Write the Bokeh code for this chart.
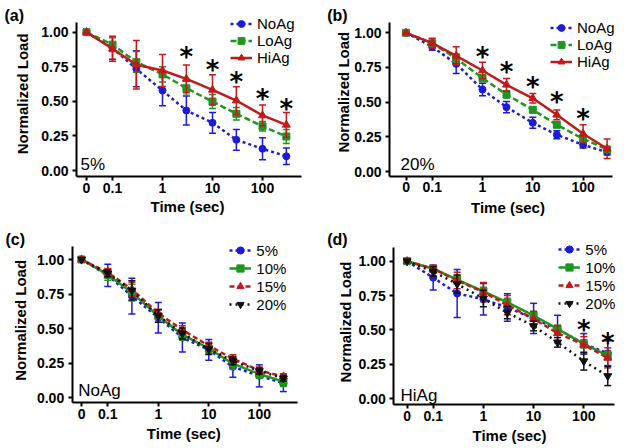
import math
from bokeh.plotting import figure
from bokeh.layouts import row, column
from bokeh.models import (Range1d, FixedTicker, Label, Legend, LegendItem,
                          NumeralTickFormatter)
from bokeh.core.properties import value
from bokeh.embed import file_html
from bokeh.resources import INLINE

# ---------------- data ----------------
TIME = [0, 0.1, 0.3, 1, 3, 10, 30, 100, 300]
X_TICK_TIMES = [0, 0.1, 1, 10, 100]
X_TICK_LABELS = ["0", "0.1", "1", "10", "100"]
Y_TICKS = [0.0, 0.25, 0.5, 0.75, 1.0]

# (a) 5% strain
A_NOAG = [1.0, 0.885, 0.735, 0.578, 0.434, 0.345, 0.222, 0.157, 0.103]
A_NOAG_SD = [0, 0.08, 0.13, 0.11, 0.105, 0.075, 0.075, 0.08, 0.06]
A_LOAG = [1.0, 0.91, 0.785, 0.695, 0.595, 0.499, 0.41, 0.32, 0.246]
A_LOAG_SD = [0, 0.05, 0.075, 0.055, 0.05, 0.05, 0.045, 0.035, 0.05]
A_HIAG = [1.0, 0.88, 0.765, 0.723, 0.663, 0.583, 0.506, 0.398, 0.33]
A_HIAG_SD = [0, 0.09, 0.175, 0.115, 0.10, 0.11, 0.10, 0.075, 0.09]
A_STAR_TIME = [3, 10, 30, 100, 300]
A_STAR_Y = [0.855, 0.764, 0.675, 0.555, 0.482]

# (b) 20% strain
B_NOAG = [1.0, 0.90, 0.776, 0.591, 0.464, 0.351, 0.265, 0.192, 0.139]
B_NOAG_SD = [0, 0.025, 0.07, 0.045, 0.04, 0.04, 0.028, 0.022, 0.02]
B_LOAG = [1.0, 0.925, 0.815, 0.673, 0.555, 0.445, 0.337, 0.236, 0.159]
B_LOAG_SD = [0, 0.02, 0.03, 0.025, 0.025, 0.02, 0.02, 0.02, 0.02]
B_HIAG = [1.0, 0.925, 0.834, 0.728, 0.625, 0.528, 0.409, 0.272, 0.164]
B_HIAG_SD = [0, 0.035, 0.065, 0.06, 0.045, 0.035, 0.035, 0.065, 0.07]
B_STAR_TIME = [1, 3, 10, 30, 100]
B_STAR_Y = [0.865, 0.752, 0.644, 0.536, 0.416]

# (c) NoAg at four strains
C_5 = [1.0, 0.885, 0.735, 0.578, 0.434, 0.345, 0.222, 0.157, 0.103]
C_5_SD = [0, 0.08, 0.13, 0.11, 0.105, 0.075, 0.075, 0.08, 0.06]
C_10 = [1.0, 0.89, 0.76, 0.59, 0.455, 0.355, 0.245, 0.17, 0.115]
C_10_SD = [0, 0.04, 0.06, 0.045, 0.04, 0.035, 0.04, 0.03, 0.035]
C_15 = [1.0, 0.905, 0.785, 0.61, 0.49, 0.375, 0.28, 0.196, 0.152]
C_15_SD = [0, 0.03, 0.05, 0.03, 0.03, 0.025, 0.03, 0.025, 0.02]
C_20 = [1.0, 0.90, 0.776, 0.591, 0.464, 0.351, 0.265, 0.192, 0.139]
C_20_SD = [0, 0.025, 0.07, 0.045, 0.04, 0.04, 0.028, 0.022, 0.02]

# (d) HiAg at four strains
D_5 = [1.0, 0.88, 0.765, 0.723, 0.663, 0.583, 0.506, 0.398, 0.33]
D_5_SD = [0, 0.09, 0.175, 0.115, 0.10, 0.11, 0.10, 0.075, 0.09]
D_10 = [1.0, 0.945, 0.865, 0.78, 0.70, 0.604, 0.507, 0.398, 0.313]
D_10_SD = [0, 0.02, 0.03, 0.03, 0.03, 0.03, 0.025, 0.03, 0.03]
D_15 = [1.0, 0.945, 0.86, 0.775, 0.68, 0.58, 0.476, 0.391, 0.296]
D_15_SD = [0, 0.025, 0.06, 0.07, 0.07, 0.055, 0.056, 0.06, 0.073]
D_20 = [1.0, 0.925, 0.834, 0.728, 0.625, 0.528, 0.409, 0.272, 0.164]
D_20_SD = [0, 0.035, 0.065, 0.06, 0.045, 0.035, 0.035, 0.065, 0.07]
D_STAR_TIME = [100, 300]
D_STAR_Y = [0.532, 0.442]

# ---------------- styles ----------------
BLUE = "#1c1cd8"
GREEN = "#1f961f"
RED = "#c21a1a"
BLACK = "#111111"
ZERO_POS = -1.52  # where t = 0 sits on the log-scaled axis
FONT = "Liberation Sans"


def xpos(t):
    return ZERO_POS if t == 0 else round(math.log10(t), 6)


def make_panel(g, series, letter, inset, star_t, star_y):
    def x_at(px):
        return -1 + (px - g["x01"]) / g["dec"]

    def y_at(py):
        return (g["y0"] - py) / (g["y0"] - g["y1"])

    p = figure(width=g["W"], height=g["H"], output_backend="svg",
               toolbar_location=None,
               x_range=Range1d(x_at(g["ox"]), x_at(g["ox"] + g["W"])),
               y_range=Range1d(y_at(g["oy"] + g["H"]), y_at(g["oy"])),
               min_border_left=0, min_border_right=0,
               min_border_top=0, min_border_bottom=0)
    p.title.visible = False
    p.outline_line_color = None
    p.xgrid.visible = False
    p.ygrid.visible = False
    p.background_fill_color = "white"
    p.border_fill_color = "white"

    for ax in (p.xaxis[0], p.yaxis[0]):
        ax.axis_line_width = 2
        ax.axis_line_color = "black"
        ax.major_tick_line_width = 2
        ax.major_tick_out = 4
        ax.major_tick_in = 0
        ax.minor_tick_out = 0
        ax.minor_tick_in = 0
        ax.major_label_text_font = FONT
        ax.major_label_text_font_style = "bold"
        ax.major_label_text_font_size = "14px"
        ax.major_label_text_color = "black"
    p.xaxis.major_label_standoff = 2
    p.yaxis.major_label_standoff = 4
    p.xaxis.ticker = FixedTicker(ticks=[xpos(t) for t in X_TICK_TIMES])
    p.xaxis.major_label_overrides = {xpos(t): lab for t, lab in zip(X_TICK_TIMES, X_TICK_LABELS)}
    p.yaxis.ticker = FixedTicker(ticks=Y_TICKS)
    p.yaxis.formatter = NumeralTickFormatter(format="0.00")
    # Prism-style offset axes: lines only along the plotting area
    p.xaxis.fixed_location = y_at(g["B"])
    p.xaxis.bounds = (x_at(g["L"]), x_at(g["R"]))
    p.yaxis.fixed_location = x_at(g["L"])
    p.yaxis.bounds = (y_at(g["B"]), y_at(g["T"]))

    xs = [xpos(t) for t in TIME]
    items = []
    for label, vals, sds, color, dash, marker, size in series:
        ex = [x for x, s in zip(xs, sds) if s > 0]
        lo = [v - s for v, s in zip(vals, sds) if s > 0]
        hi = [v + s for v, s in zip(vals, sds) if s > 0]
        p.segment(x0=ex, y0=lo, x1=ex, y1=hi, line_color=color, line_width=1.5)
        p.scatter(ex, lo, marker="dash", size=7, line_color=color, line_width=1.5)
        p.scatter(ex, hi, marker="dash", size=7, line_color=color, line_width=1.5)
        ln = p.line(xs, vals, line_color=color, line_width=2.5, line_dash=dash)
        mk = p.scatter(xs, vals, marker=marker, size=size, fill_color=color,
                       line_color=color)
        items.append(LegendItem(label=label, renderers=[ln, mk]))

    if star_t:
        p.text(x=[xpos(t) for t in star_t], y=star_y, text=["*"] * len(star_t),
               text_font=value("DejaVu Sans"), text_font_style="bold",
               text_font_size="26px", text_align="center",
               text_baseline="middle", y_offset=5, text_color="black")

    n = len(items)
    row_h = g["leg_pitch"]
    top = g["leg_row1"] - row_h / 2
    bottom = top + n * row_h
    legend = Legend(items=items,
                    location=(g["leg_left"] - g["ox"], g["oy"] + g["H"] - bottom),
                    padding=0, margin=0, spacing=0, glyph_width=22,
                    glyph_height=int(row_h), label_height=int(row_h),
                    label_standoff=5, label_text_font=FONT,
                    label_text_font_size="15px", label_text_color="black",
                    border_line_color=None, background_fill_alpha=0)
    p.add_layout(legend)

    p.add_layout(Label(x=x_at(g["letter"][0]), y=y_at(g["letter"][1]), text=letter,
                       text_font=FONT, text_font_style="bold",
                       text_font_size="16px", text_align="left",
                       text_baseline="middle", text_color="black"))
    p.add_layout(Label(x=x_at(g["inset"][0]), y=y_at(g["inset"][1]), text=inset,
                       text_font=FONT, text_font_size="17px", text_align="left",
                       text_baseline="alphabetic", text_color="black"))
    p.add_layout(Label(x=x_at(g["xlab"][0]), y=y_at(g["xlab"][1]), text="Time (sec)",
                       text_font=FONT, text_font_style="bold",
                       text_font_size="15px", text_align="center",
                       text_baseline="middle", text_color="black"))
    p.add_layout(Label(x=x_at(g["ylab"][0]), y=y_at(g["ylab"][1]),
                       text="Normalized Load", angle=math.pi / 2,
                       text_font=FONT, text_font_style="bold",
                       text_font_size="15px", text_align="center",
                       text_baseline="middle", text_color="black"))
    return p


GA = dict(ox=0, oy=0, W=314, H=224, L=76, T=22, R=301, B=176,
          x01=112, dec=50, y1=31.7, y0=170,
          leg_row1=22.7, leg_pitch=17.5, leg_left=230, letter=(4, 15),
          inset=(80, 164.3), xlab=(187, 206), ylab=(21.7, 93.3))
GB = dict(ox=314, oy=0, W=315, H=224, L=389, T=21.7, R=611.7, B=175.7,
          x01=431.7, dec=50.3, y1=32.3, y0=171,
          leg_row1=25, leg_pitch=17.8, leg_left=550, letter=(326.7, 14.5),
          inset=(400, 164.3), xlab=(507.5, 206.7), ylab=(343.3, 91.7))
GC = dict(ox=0, oy=224, W=314, H=224, L=71.7, T=245.7, R=296.7, B=402.3,
          x01=107.3, dec=50.5, y1=259, y0=397,
          leg_row1=249, leg_pitch=18.4, leg_left=229.3, letter=(5, 238.5),
          inset=(77.7, 390), xlab=(183.3, 433.2), ylab=(20, 319.8))
GD = dict(ox=314, oy=224, W=315, H=224, L=393.3, T=247.3, R=614, B=404,
          x01=432.7, dec=50.2, y1=260.7, y0=398,
          leg_row1=248, leg_pitch=18.4, leg_left=558.3, letter=(326.7, 239.3),
          inset=(400, 395), xlab=(509, 434.8), ylab=(345, 321.5))

pa = make_panel(GA, [
    ("NoAg", A_NOAG, A_NOAG_SD, BLUE, "3 3", "circle", 7),
    ("LoAg", A_LOAG, A_LOAG_SD, GREEN, "6 3", "square", 7),
    ("HiAg", A_HIAG, A_HIAG_SD, RED, "solid", "triangle", 8),
], "(a)", "5%", A_STAR_TIME, A_STAR_Y)

pb = make_panel(GB, [
    ("NoAg", B_NOAG, B_NOAG_SD, BLUE, "3 3", "circle", 7),
    ("LoAg", B_LOAG, B_LOAG_SD, GREEN, "6 3", "square", 7),
    ("HiAg", B_HIAG, B_HIAG_SD, RED, "solid", "triangle", 8),
], "(b)", "20%", B_STAR_TIME, B_STAR_Y)

pc = make_panel(GC, [
    ("5%", C_5, C_5_SD, BLUE, "3 3", "circle", 7),
    ("10%", C_10, C_10_SD, GREEN, "solid", "square", 7),
    ("15%", C_15, C_15_SD, RED, "5 3", "triangle", 8),
    ("20%", C_20, C_20_SD, BLACK, "2 4", "inverted_triangle", 8),
], "(c)", "NoAg", [], [])

pd_ = make_panel(GD, [
    ("5%", D_5, D_5_SD, BLUE, "3 3", "circle", 7),
    ("10%", D_10, D_10_SD, GREEN, "solid", "square", 7),
    ("15%", D_15, D_15_SD, RED, "5 3", "triangle", 8),
    ("20%", D_20, D_20_SD, BLACK, "2 4", "inverted_triangle", 8),
], "(d)", "HiAg", D_STAR_TIME, D_STAR_Y)

layout = column(row(pa, pb), row(pc, pd_))
open("out.html", "w").write(file_html(layout, INLINE))
